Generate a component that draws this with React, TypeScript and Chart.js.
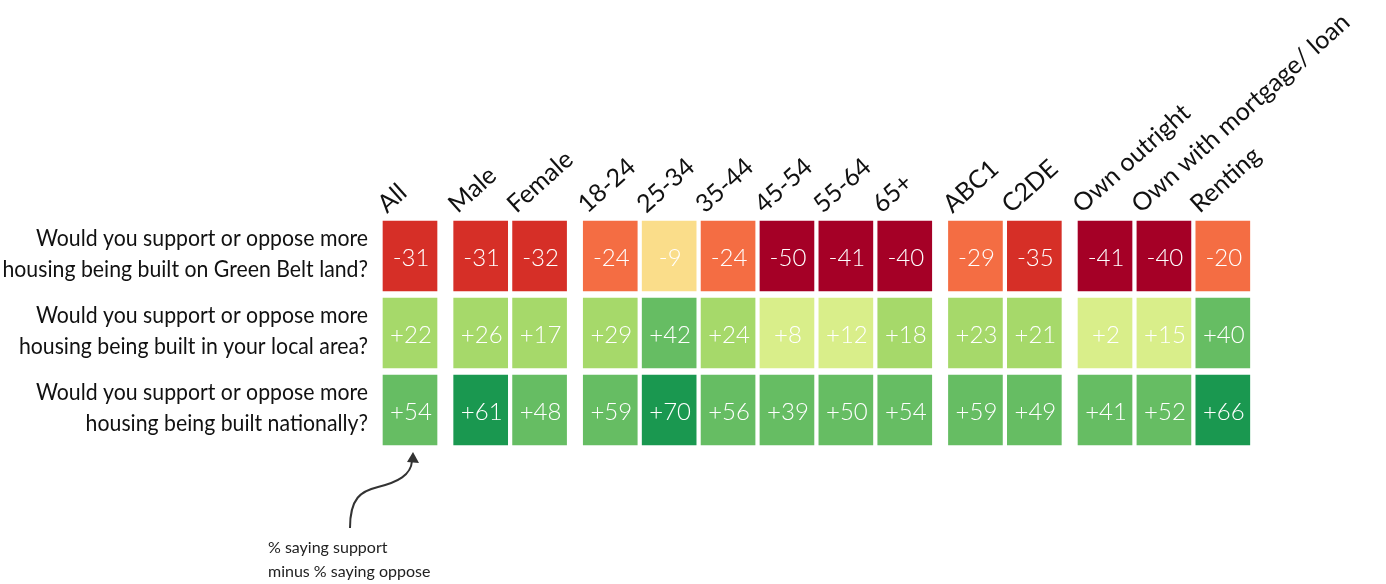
import React, { useEffect, useRef } from "react";
import { Chart, registerables } from "chart.js";

Chart.register(...registerables);

// ---- data ----
const groups: string[][] = [
  ["All"],
  ["Male", "Female"],
  ["18-24", "25-34", "35-44", "45-54", "55-64", "65+"],
  ["ABC1", "C2DE"],
  ["Own outright", "Own with mortgage/ loan", "Renting"],
];
const questions: string[][] = [
  ["Would you support or oppose more", "housing being built on Green Belt land?"],
  ["Would you support or oppose more", "housing being built in your local area?"],
  ["Would you support or oppose more", "housing being built nationally?"],
];
const greenBelt = [-31, -31, -32, -24, -9, -24, -50, -41, -40, -29, -35, -41, -40, -20];
const localArea = [22, 26, 17, 29, 42, 24, 8, 12, 18, 23, 21, 2, 15, 40];
const nationally = [54, 61, 48, 59, 70, 56, 39, 50, 54, 59, 49, 41, 52, 66];
const annotationLines = ["% saying support", "minus % saying oppose"];

// ---- layout constants ----
const W = 1386;
const H = 584;
const GROUP_GAP = 0.2;
const X_UNIT = 58.9;
const X_ORIGIN = 410;
const Y_UNIT = 77;
const Y_ORIGIN = 410;
const HALF = 0.4545;
const CELL_W = 54;
const ROW_LABEL_WIDTH = 332;
const FONT = "Lato, 'Open Sans', sans-serif";

const columns = groups.flat();
const xPos: number[] = [];
{
  let p = 0;
  groups.forEach((g) => {
    g.forEach(() => {
      xPos.push(p);
      p += 1;
    });
    p += GROUP_GAP;
  });
}
const rowsData = [greenBelt, localArea, nationally];

function colorFor(v: number): string {
  if (v <= -40) return "#a50026";
  if (v <= -30) return "#d62f27";
  if (v <= -20) return "#f46d43";
  if (v < 0) return "#fadd8a";
  if (v < 16) return "#d9ee8a";
  if (v < 30) return "#a6d96a";
  if (v < 60) return "#66bd63";
  return "#1a9850";
}

const labelsPlugin = {
  id: "heatLabels",
  afterDatasetsDraw(chart: any) {
    const ctx: CanvasRenderingContext2D = chart.ctx;
    const xs = chart.scales.x;
    const ys = chart.scales.y;
    ctx.save();

    // values in cells
    ctx.fillStyle = "#ffffff";
    ctx.font = `300 24px ${FONT}`;
    ctx.textAlign = "center";
    ctx.textBaseline = "middle";
    rowsData.forEach((vals, ri) => {
      const meta = chart.getDatasetMeta(ri);
      meta.data.forEach((bar: any, i: number) => {
        const v = vals[i];
        const cy = (bar.y + bar.base) / 2;
        ctx.fillText(v > 0 ? "+" + v : String(v), bar.x + 1, cy + 2);
      });
    });

    // column headers (rotated)
    ctx.fillStyle = "#111111";
    ctx.font = `400 25px ${FONT}`;
    ctx.textAlign = "left";
    ctx.textBaseline = "alphabetic";
    const topPx = ys.getPixelForValue(2 + HALF);
    columns.forEach((c, i) => {
      const left = xs.getPixelForValue(xPos[i]) - CELL_W / 2;
      ctx.save();
      ctx.translate(left + 4, topPx - 7);
      ctx.rotate((-42 * Math.PI) / 180);
      ctx.fillText(c, 0, 0);
      ctx.restore();
    });

    // row labels (condensed horizontally to match the narrow original face)
    ctx.textAlign = "right";
    ctx.font = `400 24px ${FONT}`;
    const squeeze = ROW_LABEL_WIDTH / ctx.measureText(questions[0][0]).width;
    const rightEdge = xs.getPixelForValue(xPos[0]) - CELL_W / 2 - 15;
    questions.forEach((q, ri) => {
      const cy = ys.getPixelForValue(2 - ri);
      ctx.save();
      ctx.translate(rightEdge, 0);
      ctx.scale(squeeze, 1);
      ctx.fillText(q[0], 0, cy - 10);
      ctx.fillText(q[1], 0, cy + 21);
      ctx.restore();
    });

    // annotation arrow
    const tipX = xs.getPixelForValue(xPos[0]) + 3;
    const tipY = ys.getPixelForValue(-HALF) + 8;
    ctx.strokeStyle = "#333333";
    ctx.fillStyle = "#333333";
    ctx.lineWidth = 2;
    ctx.beginPath();
    ctx.moveTo(tipX - 63, tipY + 75);
    ctx.bezierCurveTo(tipX - 63, tipY + 45, tipX - 52, tipY + 38, tipX - 35, tipY + 34);
    ctx.bezierCurveTo(tipX - 15, tipY + 29, tipX - 2, tipY + 22, tipX - 1, tipY + 8);
    ctx.stroke();
    ctx.beginPath();
    ctx.moveTo(tipX, tipY - 1);
    ctx.lineTo(tipX + 6, tipY + 10);
    ctx.lineTo(tipX - 6, tipY + 9);
    ctx.closePath();
    ctx.fill();

    ctx.fillStyle = "#222222";
    ctx.font = `400 16px ${FONT}`;
    ctx.textAlign = "left";
    ctx.fillText(annotationLines[0], tipX - 145, tipY + 100);
    ctx.fillText(annotationLines[1], tipX - 145, tipY + 124);

    ctx.restore();
  },
};

export default function App() {
  const ref = useRef<HTMLCanvasElement | null>(null);
  useEffect(() => {
    if (!ref.current) return;
    const datasets = rowsData.map((vals, ri) => ({
      label: questions[ri].join(" "),
      data: vals.map((_, i) => ({ x: xPos[i], y: [2 - ri - HALF, 2 - ri + HALF] })),
      backgroundColor: vals.map(colorFor),
      borderWidth: 0,
      barThickness: CELL_W,
      grouped: false,
    }));
    const chart = new Chart(ref.current, {
      type: "bar",
      data: { datasets: datasets as any },
      options: {
        animation: false,
        responsive: false,
        maintainAspectRatio: false,
        layout: { padding: 0 },
        plugins: { legend: { display: false }, tooltip: { enabled: false } },
        scales: {
          x: {
            type: "linear",
            display: false,
            offset: false,
            min: -X_ORIGIN / X_UNIT,
            max: (W - X_ORIGIN) / X_UNIT,
          },
          y: {
            type: "linear",
            display: false,
            min: -(H - Y_ORIGIN) / Y_UNIT,
            max: Y_ORIGIN / Y_UNIT,
          },
        },
      },
      plugins: [labelsPlugin],
    });
    return () => chart.destroy();
  }, []);
  return (
    <div style={{ position: "fixed", left: 0, top: 0, width: W, height: H, background: "#fff" }}>
      <canvas ref={ref} width={W} height={H} style={{ display: "block" }} />
    </div>
  );
}
